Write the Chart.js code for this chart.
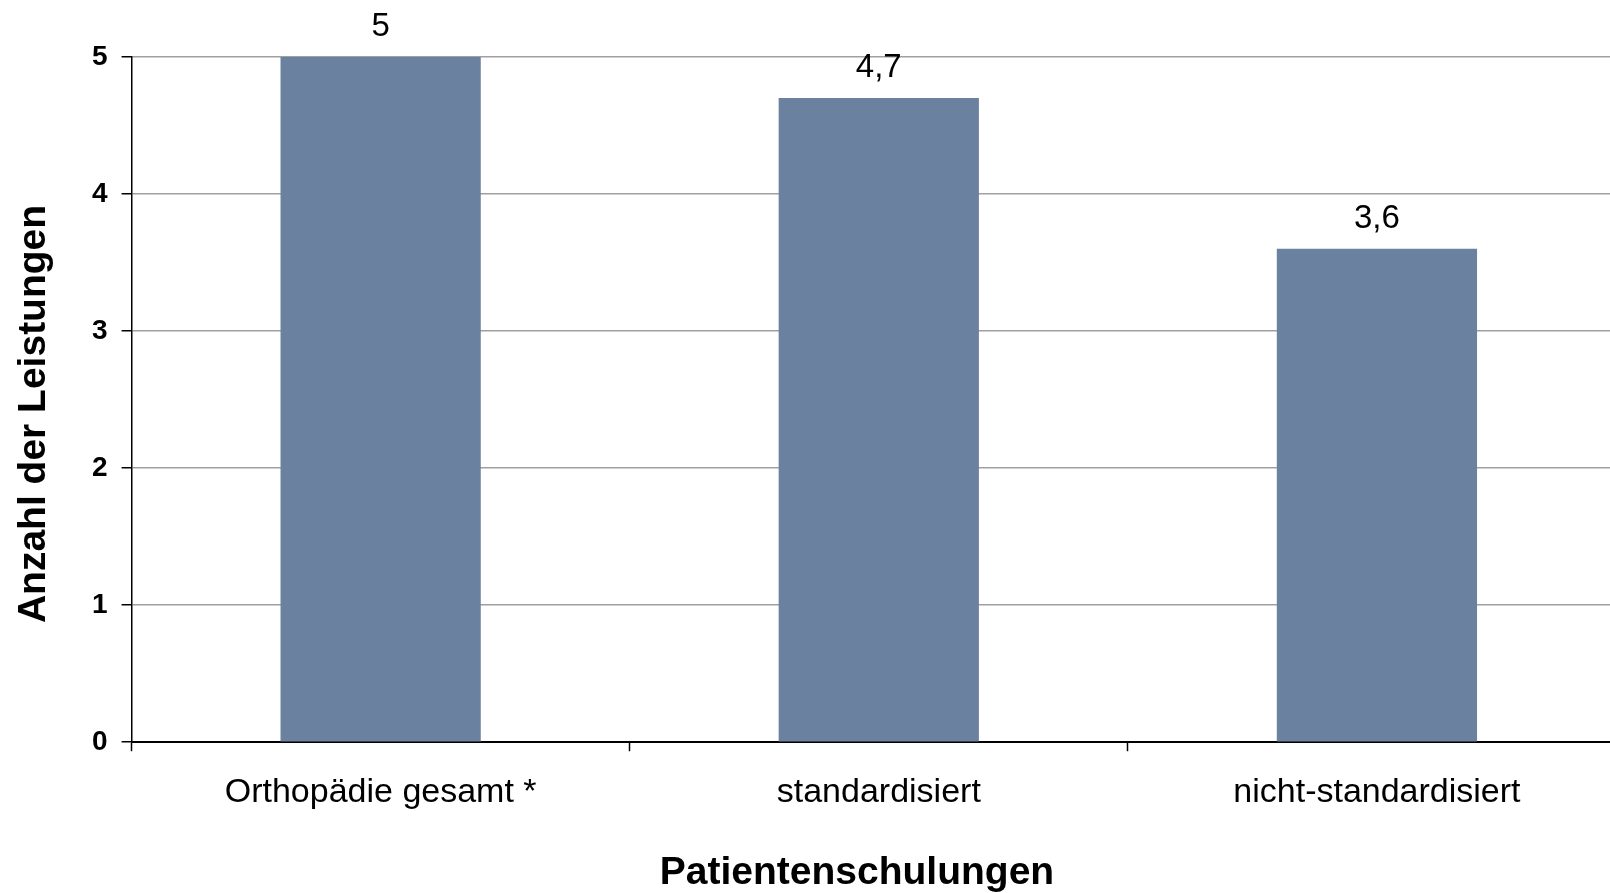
<!DOCTYPE html>
<html>
<head>
<meta charset="utf-8">
<script src="https://cdn.jsdelivr.net/npm/chart.js@4"></script>
<style>
  html, body { margin: 0; padding: 0; background: #fff; overflow: hidden; }
  #wrap { width: 1626px; height: 893px; }
</style>
</head>
<body>
<div id="wrap"><canvas id="myBarChart" width="1626" height="893"></canvas></div>
<script>
const categories = ["Orthopädie gesamt *", "standardisiert", "nicht-standardisiert"];
const values = [5, 4.7, 3.6];
const yTicks = [0, 1, 2, 3, 4, 5];
const xTitle = "Patientenschulungen";
const yTitle = "Anzahl der Leistungen";

const FONT = "'Liberation Sans', Arial, sans-serif";

// value labels above bars, German decimal comma
const valueLabels = {
  id: "value-labels",
  afterDatasetsDraw: (chart) => {
    const ctx = chart.ctx;
    const meta = chart.getDatasetMeta(0);
    ctx.save();
    ctx.font = "33px " + FONT;
    ctx.fillStyle = "#000";
    ctx.textAlign = "center";
    ctx.textBaseline = "alphabetic";
    meta.data.forEach((bar, i) => {
      const txt = String(values[i]).replace(".", ",");
      ctx.fillText(txt, bar.x, bar.y - 21);
    });
    ctx.restore();
  },
};

// axis titles, placed like the original (not centred on the plot area)
const axisTitles = {
  id: "axis-titles",
  afterDraw: (chart) => {
    const ctx = chart.ctx;
    ctx.save();
    ctx.font = "bold 39px " + FONT;
    ctx.fillStyle = "#000";
    ctx.textAlign = "center";
    ctx.textBaseline = "middle";
    ctx.fillText(xTitle, 857, 873);
    ctx.translate(34, 414);
    ctx.rotate(-Math.PI / 2);
    ctx.fillText(yTitle, 0, 0);
    ctx.restore();
  },
};

const data = {
  labels: categories,
  datasets: [
    {
      label: "Anzahl",
      data: values,
      backgroundColor: "#6a829f",
      borderWidth: 0,
      categoryPercentage: 1,
      barPercentage: 0.402,
    },
  ],
};

const config = {
  type: "bar",
  data: data,
  options: {
    responsive: false,
    animation: false,
    layout: {
      padding: { top: 57, right: 0, bottom: 59, left: 78 },
    },
    plugins: {
      legend: { display: false },
      tooltip: { enabled: false },
    },
    scales: {
      x: {
        offset: true,
        grid: {
          offset: true,
          drawOnChartArea: false,
          drawTicks: true,
          tickLength: 9,
          tickColor: "#000",
          tickWidth: 1.5,
        },
        border: { display: true, color: "#000", width: 2 },
        ticks: {
          color: "#000",
          font: { family: FONT, size: 34 },
          padding: 21,
          maxRotation: 0,
        },
      },
      y: {
        min: 0,
        max: 5,
        afterBuildTicks: (axis) => {
          axis.ticks = yTicks.map((v) => ({ value: v }));
        },
        grid: {
          color: "#a0a0a0",
          lineWidth: 1.5,
          drawTicks: true,
          tickLength: 10,
          tickColor: "#000",
        },
        border: { display: true, color: "#000", width: 1.5 },
        ticks: {
          color: "#000",
          font: { family: FONT, size: 28, weight: "bold" },
          padding: 14,
        },
      },
    },
  },
  plugins: [valueLabels, axisTitles],
};

const ctx = document.getElementById("myBarChart").getContext("2d");
new Chart(ctx, config);
</script>
</body>
</html>
